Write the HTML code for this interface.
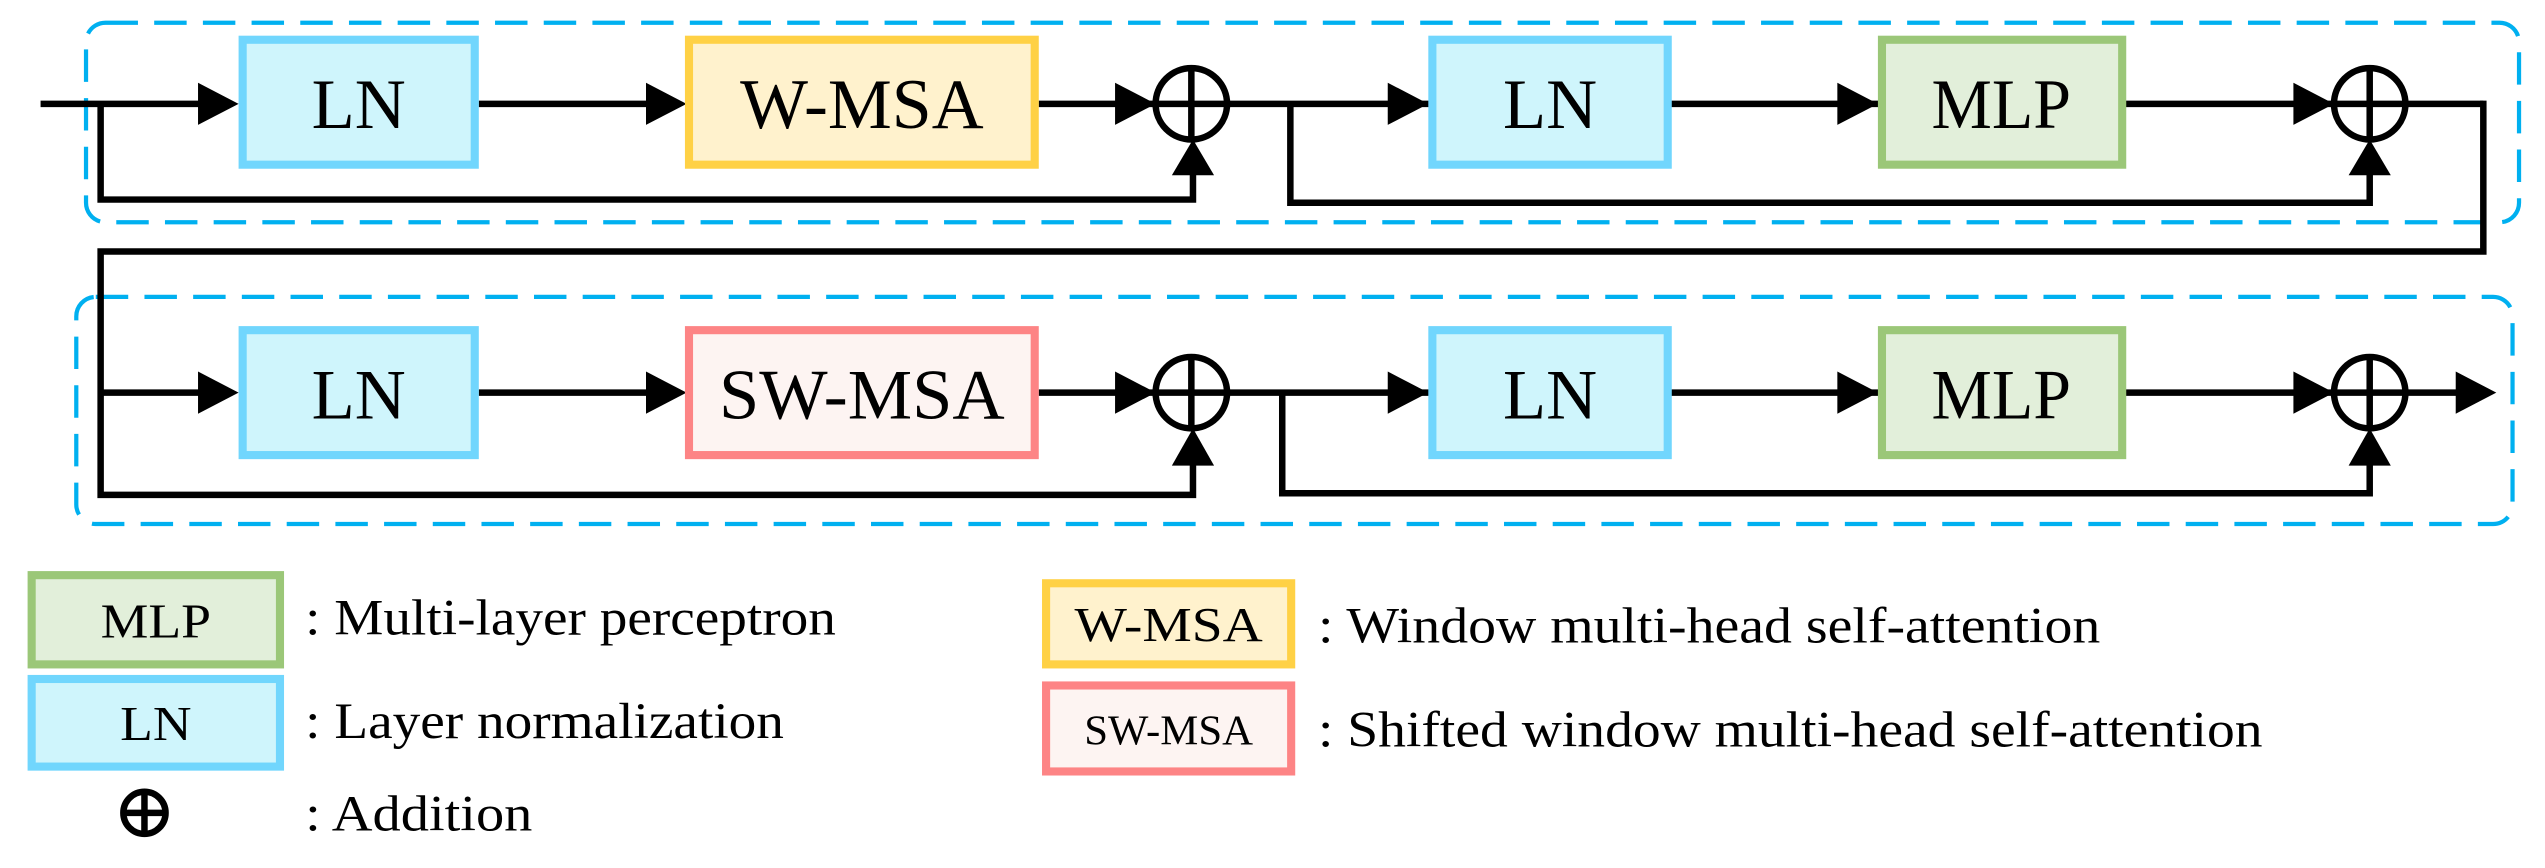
<!DOCTYPE html>
<html><head><meta charset="utf-8"><style>
html,body{margin:0;padding:0;background:#fff;}
svg{display:block;}
text{font-family:"Liberation Serif",serif;fill:#000;}
</style></head><body>
<svg width="2545" height="868" viewBox="0 0 1568 535" preserveAspectRatio="none" xmlns="http://www.w3.org/2000/svg">
<!-- dashed groups -->
<rect x="53" y="14" width="1499" height="123" rx="12" fill="none" stroke="#00b0f0" stroke-width="2.6" stroke-dasharray="20,10"/>
<rect x="47" y="183" width="1501" height="140" rx="12" fill="none" stroke="#00b0f0" stroke-width="2.6" stroke-dasharray="20,10"/>

<g stroke="#000" stroke-width="4" fill="none" stroke-linejoin="miter">
<!-- row1 -->
<line x1="25" y1="64" x2="130" y2="64"/>
<line x1="295" y1="64" x2="405" y2="64"/>
<line x1="640" y1="64" x2="1530" y2="64"/>
<polyline points="62,64 62,123 735,123 735,105"/>
<polyline points="795,64 795,125 1460,125 1460,105"/>
<polyline points="1530,62 1530,155 62,155 62,305 735,305 735,285"/>
<!-- row2 -->
<line x1="62" y1="242" x2="130" y2="242"/>
<line x1="295" y1="242" x2="405" y2="242"/>
<line x1="640" y1="242" x2="1520" y2="242"/>
<polyline points="790,242 790,304 1460,304 1460,285"/>
</g>
<!-- arrowheads right -->
<g fill="#000">
<polygon points="122,51 147,64 122,77"/>
<polygon points="398,51 423,64 398,77"/>
<polygon points="687,51 712,64 687,77"/>
<polygon points="855,51 880,64 855,77"/>
<polygon points="1132,51 1157,64 1132,77"/>
<polygon points="1413,51 1438,64 1413,77"/>
<polygon points="122,229 147,242 122,255"/>
<polygon points="398,229 423,242 398,255"/>
<polygon points="687,229 712,242 687,255"/>
<polygon points="855,229 880,242 855,255"/>
<polygon points="1132,229 1157,242 1132,255"/>
<polygon points="1413,229 1438,242 1413,255"/>
<polygon points="1513,229 1538,242 1513,255"/>
<!-- arrowheads up -->
<polygon points="722,108 735,86 748,108"/>
<polygon points="1447,108 1460,86 1473,108"/>
<polygon points="722,287 735,264 748,287"/>
<polygon points="1447,287 1460,264 1473,287"/>
</g>
<!-- plus circles -->
<g stroke="#000" stroke-width="4" fill="none">
<circle cx="734" cy="64" r="22"/><line x1="734" y1="42" x2="734" y2="86"/>
<circle cx="1460" cy="64" r="22"/><line x1="1460" y1="42" x2="1460" y2="86"/>
<circle cx="734" cy="242" r="22"/><line x1="734" y1="220" x2="734" y2="264"/>
<circle cx="1460" cy="242" r="22"/><line x1="1460" y1="220" x2="1460" y2="264"/>
</g>
<!-- boxes -->
<g stroke-width="5">
<rect x="149.5" y="24.5" width="143" height="77" fill="#cff5fc" stroke="#71d6fd"/>
<rect x="424.5" y="24.5" width="213" height="77" fill="#fff2cd" stroke="#ffd145"/>
<rect x="882.5" y="24.5" width="145" height="77" fill="#cff5fc" stroke="#71d6fd"/>
<rect x="1159.5" y="24.5" width="148" height="77" fill="#e2efda" stroke="#9bc778"/>
<rect x="149.5" y="203.5" width="143" height="77" fill="#cff5fc" stroke="#71d6fd"/>
<rect x="424.5" y="203.5" width="213" height="77" fill="#fdf4f2" stroke="#fd8485"/>
<rect x="882.5" y="203.5" width="145" height="77" fill="#cff5fc" stroke="#71d6fd"/>
<rect x="1159.5" y="203.5" width="148" height="77" fill="#e2efda" stroke="#9bc778"/>
<!-- legend boxes -->
<rect x="19.5" y="354.5" width="153" height="55" fill="#e2efda" stroke="#9bc778"/>
<rect x="19.5" y="418.5" width="153" height="54" fill="#cff5fc" stroke="#71d6fd"/>
<rect x="644.5" y="359.5" width="151" height="50" fill="#fff2cd" stroke="#ffd145"/>
<rect x="644.5" y="422.5" width="151" height="53" fill="#fdf4f2" stroke="#fd8485"/>
</g>
<!-- box text -->
<g font-size="44" text-anchor="middle">
<text x="221" y="79" textLength="58" lengthAdjust="spacingAndGlyphs">LN</text>
<text x="531" y="79" textLength="150" lengthAdjust="spacingAndGlyphs">W-MSA</text>
<text x="955" y="79" textLength="58" lengthAdjust="spacingAndGlyphs">LN</text>
<text x="1233" y="79" textLength="86" lengthAdjust="spacingAndGlyphs">MLP</text>
<text x="221" y="258" textLength="58" lengthAdjust="spacingAndGlyphs">LN</text>
<text x="531" y="258" textLength="176" lengthAdjust="spacingAndGlyphs">SW-MSA</text>
<text x="955" y="258" textLength="58" lengthAdjust="spacingAndGlyphs">LN</text>
<text x="1233" y="258" textLength="86" lengthAdjust="spacingAndGlyphs">MLP</text>
</g>
<g font-size="30" text-anchor="middle">
<text x="96" y="393" textLength="68" lengthAdjust="spacingAndGlyphs">MLP</text>
<text x="96" y="456" textLength="44" lengthAdjust="spacingAndGlyphs">LN</text>
<text x="720" y="395" textLength="116" lengthAdjust="spacingAndGlyphs">W-MSA</text>
<text x="720" y="459" font-size="26" textLength="104" lengthAdjust="spacingAndGlyphs">SW-MSA</text>
</g>
<g font-size="31">
<text x="188" y="391" textLength="327" lengthAdjust="spacingAndGlyphs">: Multi-layer perceptron</text>
<text x="188" y="455" textLength="295" lengthAdjust="spacingAndGlyphs">: Layer normalization</text>
<text x="188" y="512" textLength="140" lengthAdjust="spacingAndGlyphs">: Addition</text>
<text x="812" y="396" textLength="482" lengthAdjust="spacingAndGlyphs">: Window multi-head self-attention</text>
<text x="812" y="460" textLength="582" lengthAdjust="spacingAndGlyphs">: Shifted window multi-head self-attention</text>
</g>
<!-- legend plus -->
<g stroke="#000" stroke-width="4" fill="none">
<circle cx="89" cy="501" r="13"/>
<line x1="76" y1="501" x2="102" y2="501"/>
<line x1="89" y1="488" x2="89" y2="514"/>
</g>
</svg>
</body></html>
